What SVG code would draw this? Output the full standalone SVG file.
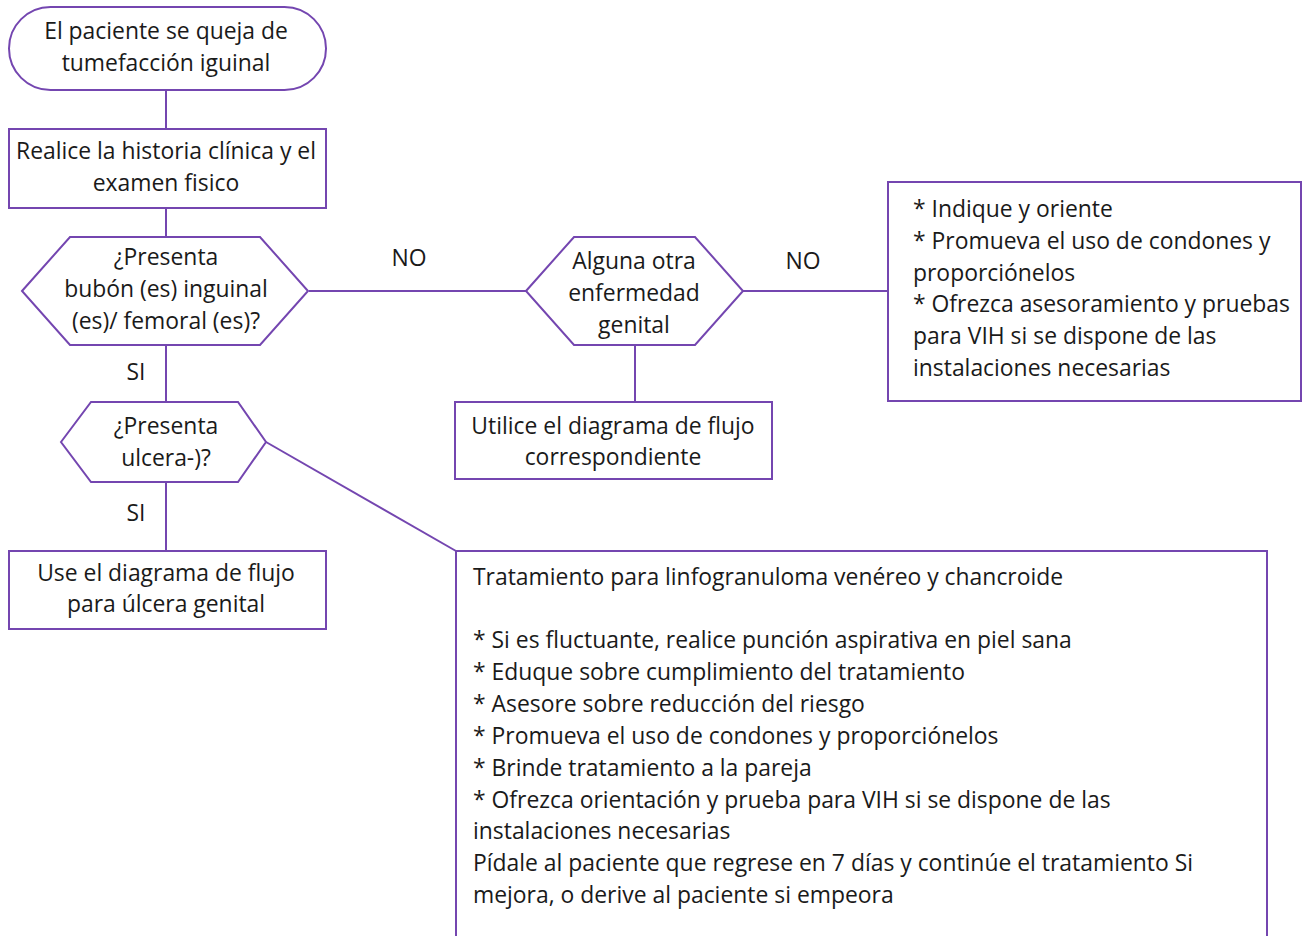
<svg xmlns="http://www.w3.org/2000/svg" width="1302" height="936" viewBox="0 0 1302 936">
  <style>
    .shape { fill: #ffffff; stroke: #7446b0; stroke-width: 2; }
    .link { fill: none; stroke: #7446b0; stroke-width: 2; }
    text { font-family: "Open Sans", Lato, "Liberation Sans", sans-serif; font-size: 22.9px; fill: #1a1a1a; }
    .c { text-anchor: middle; }
  </style>
  <rect width="1302" height="936" fill="#ffffff"/>

  <!-- connectors -->
  <g id="connectors">
    <line class="link" x1="166" y1="90" x2="166" y2="129"/>
    <line class="link" x1="166" y1="208" x2="166" y2="237"/>
    <line class="link" x1="309" y1="291" x2="526" y2="291"/>
    <line class="link" x1="743" y1="291" x2="888" y2="291"/>
    <line class="link" x1="635" y1="345" x2="635" y2="402"/>
    <line class="link" x1="166" y1="345" x2="166" y2="402"/>
    <line class="link" x1="166" y1="482" x2="166" y2="551"/>
    <line class="link" x1="266" y1="442" x2="456" y2="551"/>
    <text x="409" y="266" class="c">NO</text>
    <text x="803" y="269" class="c">NO</text>
    <text x="136" y="380" class="c">SI</text>
    <text x="136" y="521" class="c">SI</text>
  </g>

  <g id="start">
    <rect class="shape" x="9" y="7" width="317" height="83" rx="41.5" ry="41.5"/>
    <text x="166" y="39" class="c">El paciente se queja de</text>
    <text x="166" y="71" class="c">tumefacción iguinal</text>
  </g>

  <g id="history">
    <rect class="shape" x="9" y="129" width="317" height="79"/>
    <text x="166" y="159" class="c">Realice la historia clínica y el</text>
    <text x="166" y="191" class="c">examen fisico</text>
  </g>

  <g id="bubo">
    <polygon class="shape" points="22,291 70,237 260,237 308,291 260,345 70,345"/>
    <text x="166" y="265" class="c">¿Presenta</text>
    <text x="166" y="297" class="c">bubón (es) inguinal</text>
    <text x="166" y="329" class="c">(es)/ femoral (es)?</text>
  </g>

  <g id="other">
    <polygon class="shape" points="526,291 574,237 695,237 743,291 695,345 574,345"/>
    <text x="634" y="269" class="c">Alguna otra</text>
    <text x="634" y="301" class="c">enfermedad</text>
    <text x="634" y="333" class="c">genital</text>
  </g>

  <g id="use-flow">
    <rect class="shape" x="455" y="402" width="317" height="77"/>
    <text x="613" y="434" class="c">Utilice el diagrama de flujo</text>
    <text x="613" y="465" class="c">correspondiente</text>
  </g>

  <g id="advice">
    <rect class="shape" x="888" y="182" width="413" height="219"/>
    <text x="913" y="217">* Indique y oriente</text>
    <text x="913" y="249">* Promueva el uso de condones y</text>
    <text x="913" y="281">proporciónelos</text>
    <text x="913" y="312">* Ofrezca asesoramiento y pruebas</text>
    <text x="913" y="344">para VIH si se dispone de las</text>
    <text x="913" y="376">instalaciones necesarias</text>
  </g>

  <g id="ulcer">
    <polygon class="shape" points="61,442 91,402 238,402 266,442 238,482 91,482"/>
    <text x="166" y="434" class="c">¿Presenta</text>
    <text x="166" y="466" class="c">ulcera-)?</text>
  </g>

  <g id="ulcer-flow">
    <rect class="shape" x="9" y="551" width="317" height="78"/>
    <text x="166" y="581" class="c">Use el diagrama de flujo</text>
    <text x="166" y="612" class="c">para úlcera genital</text>
  </g>

  <g id="treatment">
    <rect class="shape" x="456" y="551" width="811" height="400"/>
    <text x="473" y="585">Tratamiento para linfogranuloma venéreo y chancroide</text>
    <text x="473" y="648">* Si es fluctuante, realice punción aspirativa en piel sana</text>
    <text x="473" y="680">* Eduque sobre cumplimiento del tratamiento</text>
    <text x="473" y="712">* Asesore sobre reducción del riesgo</text>
    <text x="473" y="744">* Promueva el uso de condones y proporciónelos</text>
    <text x="473" y="776">* Brinde tratamiento a la pareja</text>
    <text x="473" y="808">* Ofrezca orientación y prueba para VIH si se dispone de las</text>
    <text x="473" y="839">instalaciones necesarias</text>
    <text x="473" y="871">Pídale al paciente que regrese en 7 días y continúe el tratamiento Si</text>
    <text x="473" y="903">mejora, o derive al paciente si empeora</text>
  </g>
</svg>
